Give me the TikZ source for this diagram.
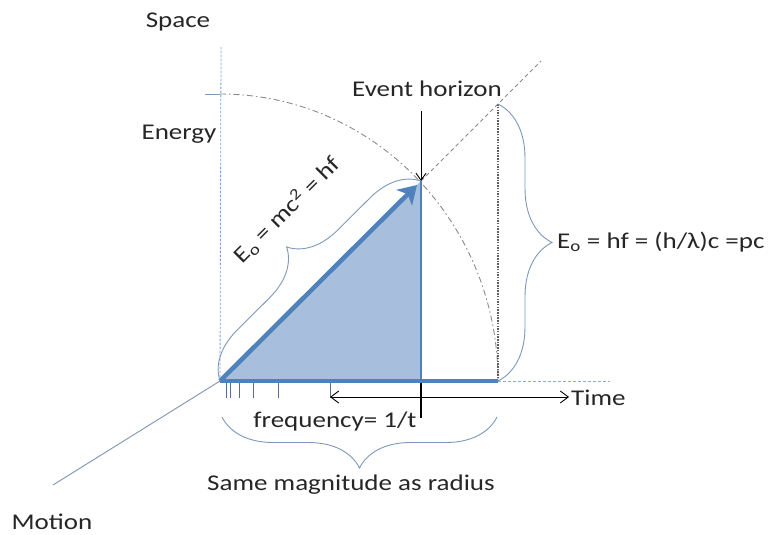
\documentclass[tikz,border=0pt]{standalone}
\usepackage{fontspec}
\setmainfont{Carlito}[FakeStretch=1.2]
\usetikzlibrary{arrows.meta,decorations.pathreplacing}
\definecolor{obl}{HTML}{4F81BD}
\definecolor{ofill}{HTML}{A7BEDC}
\definecolor{brc}{HTML}{7E98BC}
\definecolor{gln}{HTML}{8A8A8A}
\definecolor{dgr}{HTML}{5E5E5E}
\definecolor{tck}{HTML}{5A6E8A}
\definecolor{txt}{HTML}{262626}
\begin{document}
\begin{tikzpicture}[x=1pt,y=-1pt,
  lbl/.style={font=\fontsize{22.5}{26}\selectfont, text=txt, inner sep=0pt},
  bracestyle/.style={brc, line width=0.9, decorate},
  tickstyle/.style={tck, line width=0.9}]
\useasboundingbox (0,0) rectangle (771,535);
% key points
\coordinate (O) at (220,381);
\coordinate (P) at (421,181);
\coordinate (Q) at (421,381);
\coordinate (R) at (498,381);
\coordinate (RT) at (498,104);
\coordinate (Dend) at (541,61);
\coordinate (Atop) at (220,94);
\coordinate (Atick) at (205,94);
\coordinate (Ytop) at (221,47);
\coordinate (Mend) at (53,485);
\coordinate (Xend) at (610,381);
\coordinate (EHtop) at (421,111);
\coordinate (Ptip) at (417,185);
\coordinate (TL) at (330,397);
\coordinate (TR) at (569,397);
\coordinate (MkT) at (421,383);
\coordinate (MkB) at (421,418);
\coordinate (BbL) at (222,417);
\coordinate (BbR) at (497,417);
% triangle
\fill[ofill] (O) -- (P) -- (Q) -- cycle;
% axes
\draw[obl!75, line width=0.8, dash pattern=on 2.5pt off 1.5pt] (O) -- (Ytop);
\draw[obl!65, line width=0.8, dash pattern=on 3pt off 2pt] (R) -- (Xend);
\draw[brc!85!gray, line width=0.9] (O) -- (Mend);
% construction lines
\draw[brc, line width=0.9] (Atick) -- (Atop);
\draw[gln, line width=0.9, dash pattern=on 6pt off 3pt on 1.5pt off 3pt]
  (Atop) arc[start angle=-90, end angle=0, x radius=278, y radius=287];
\draw[gln, line width=0.9, dash pattern=on 4pt off 3pt] (P) -- (Dend);
\draw[dgr, line width=1.2, dash pattern=on 1.5pt off 1.2pt] (R) -- (RT);
% blue lines
\draw[obl, line width=1.5] (P) -- (Q);
\draw[obl, line width=4] (O) -- (R);
\draw[obl, line width=4.5, -{Stealth[length=18pt, width=22pt, inset=5pt]}] (O) -- (Ptip);
% event horizon arrow
\draw[black, line width=0.9, -{Straight Barb[length=7pt, width=10pt]}] (EHtop) -- (P);
% ticks
\foreach \tx in {226,230,239,253,278,330}
  \draw[tickstyle] (\tx,383) -- (\tx,398);
% time arrow
\draw[black, line width=0.9, {Straight Barb[length=8pt, width=12pt]}-{Straight Barb[length=8pt, width=12pt]}] (TL) -- (TR);
\draw[black, line width=2.2] (MkT) -- (MkB);
% braces
\draw[bracestyle, decoration={brace, amplitude=48pt}] (O) -- (P);
\draw[bracestyle, decoration={brace, amplitude=54pt}] (RT) -- (R);
\draw[bracestyle, decoration={brace, amplitude=51pt}] (BbR) -- (BbL);
% labels
\node[lbl] (space) at (178,22) {Space};
\node[lbl] (energy) at (179,134) {Energy};
\node[lbl] (eh) at (427,89) {Event horizon};
\node[lbl] (freq) at (335,421) {frequency= 1/t};
\node[lbl, anchor=west] (time) at (571,398) {Time};
\node[lbl] (same) at (351,485) {Same magnitude as radius};
\node[lbl] (motion) at (52,522) {Motion};
\node[lbl, anchor=west] (eright) at (557,242) {E\textsubscript{o} = hf = (h/λ)c =pc};
\node[lbl, rotate=45] (ediag) at (287,210) {E\textsubscript{o} = mc\textsuperscript{2} = hf};
\end{tikzpicture}
\end{document}
